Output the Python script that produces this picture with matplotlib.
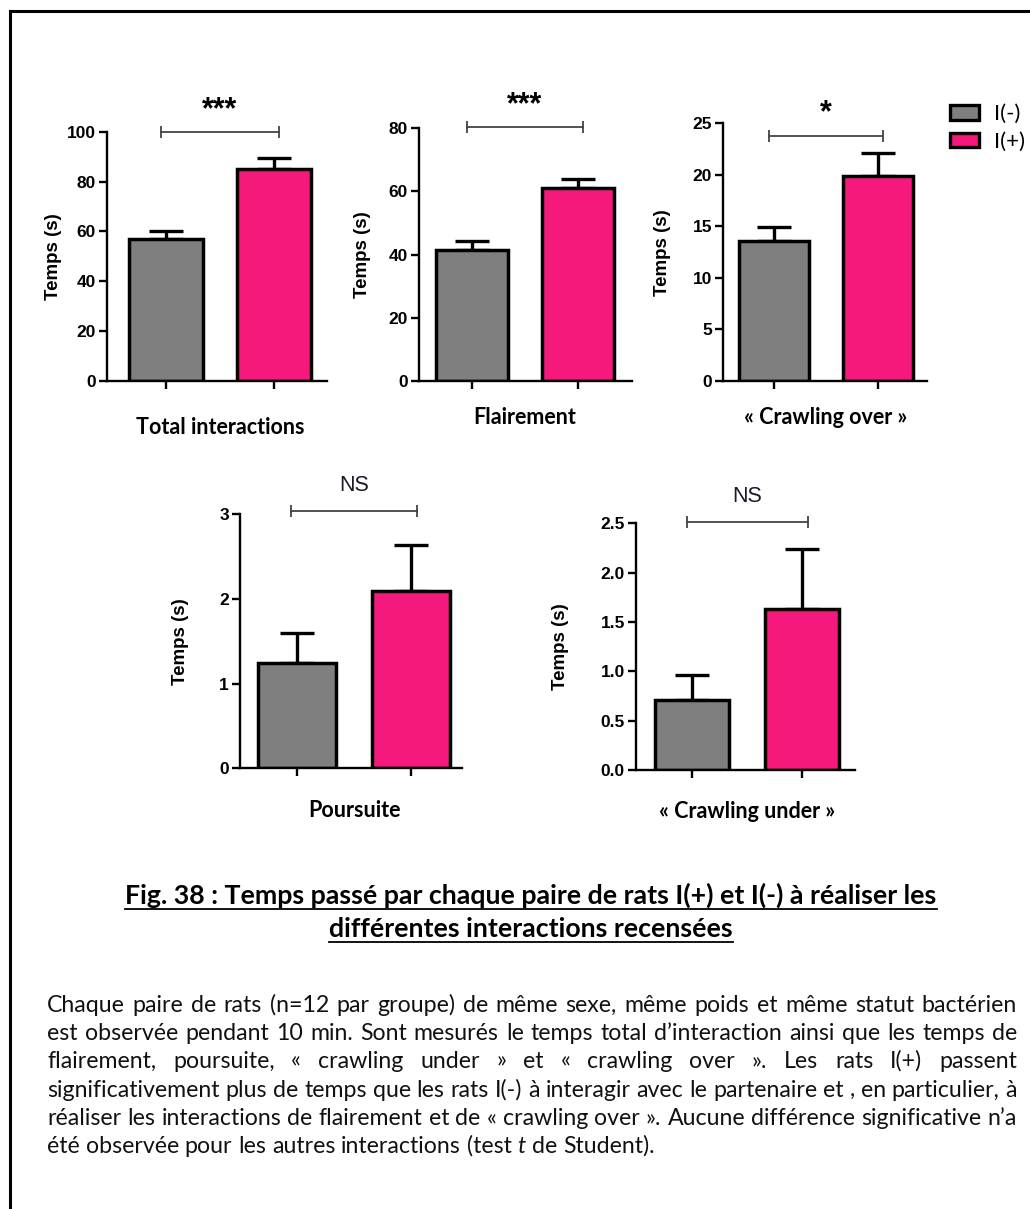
import matplotlib
matplotlib.use('Agg')
import matplotlib.pyplot as plt
from matplotlib.patches import Patch
from matplotlib.lines import Line2D
from matplotlib.ticker import FuncFormatter

# data
panels = ['Total interactions', 'Flairement', '« Crawling over »',
          'Poursuite', '« Crawling under »']
groups = ['I(-)', 'I(+)']
mean_neg = [57, 41.4, 13.6, 1.24, 0.71]
mean_pos = [85, 61, 19.9, 2.09, 1.63]
sem_neg = [3.2, 2.9, 1.3, 0.36, 0.25]
sem_pos = [4.5, 2.8, 2.2, 0.54, 0.61]
y_max = [100, 80, 25, 3, 2.5]
y_step = [20, 20, 5, 1, 0.5]
signif = ['***', '***', '*', 'NS', 'NS']
bracket_y = [100, 80.5, 23.8, 3.03, 2.51]

caption = ['Fig. 38 : Temps passé par chaque paire de rats I(+) et I(-) à réaliser les',
           'différentes interactions recensées']
body = [
    'Chaque paire de rats (n=12 par groupe) de même sexe, même poids et même statut bactérien',
    'est observée pendant 10 min. Sont mesurés  le temps total d’interaction ainsi que les temps de',
    'flairement, poursuite, « crawling under » et « crawling over ». Les rats I(+) passent',
    'significativement plus de temps  que les rats I(-) à interagir avec le partenaire et , en particulier, à',
    'réaliser les interactions de flairement et de « crawling over ». Aucune différence significative n’a',
    'été observée pour les autres interactions (test t de Student).',
]

colors = ['#7f7f7f', '#f5197d']
W, H = 1030, 1209

# layout in pixels: left, right, top, bottom, first tick, second tick, ylabel offset, xlabel offset
layout = [
    (107, 327, 131.7, 381, 166, 274, 45, 47),
    (419, 632, 128.3, 381, 472, 578, 48, 37),
    (723, 927, 123.3, 381, 774, 878, 52, 37),
    (240, 462, 514.0, 768.3, 297, 411, 51, 42),
    (636, 855, 523.3, 770, 692, 802, 67, 42),
]

tick_font = {'family': 'Liberation Sans', 'weight': 'bold', 'size': 12.5}
txt_font = 'Lato'

fig = plt.figure(figsize=(W / 100, H / 100), dpi=100)

for i, name in enumerate(panels):
    left, right, top, bottom, t1, t2, ylab_off, xlab_off = layout[i]
    ax = fig.add_axes([left / W, 1 - bottom / H, (right - left) / W, (bottom - top) / H])
    unit = t2 - t1
    ax.set_xlim((left - t1) / unit, (right - t1) / unit)
    ax.set_ylim(0, y_max[i])

    ax.errorbar([0, 1], [mean_neg[i], mean_pos[i]],
                yerr=[[0, 0], [sem_neg[i], sem_pos[i]]],
                fmt='none', ecolor='black', elinewidth=2.4, capsize=12,
                capthick=2.4, zorder=1, clip_on=False)
    ax.bar([0, 1], [mean_neg[i], mean_pos[i]], width=0.68, color=colors,
           edgecolor='black', linewidth=2.5, zorder=2)

    for s in ['top', 'right']:
        ax.spines[s].set_visible(False)
    for s in ['left', 'bottom']:
        ax.spines[s].set_linewidth(1.7)
    ax.set_xticks([0, 1])
    ax.set_xticklabels([])
    ax.tick_params(axis='x', length=6, width=1.7, direction='out')
    ticks = [k * y_step[i] for k in range(int(round(y_max[i] / y_step[i])) + 1)]
    ax.set_yticks(ticks)
    if y_step[i] < 1:
        ax.yaxis.set_major_formatter(FuncFormatter(lambda v, p: f'{v:.1f}'))
    else:
        ax.yaxis.set_major_formatter(FuncFormatter(lambda v, p: f'{v:.0f}'))
    ax.tick_params(axis='y', length=6, width=1.7, pad=2)
    for lab in ax.get_yticklabels():
        lab.set_fontproperties(tick_font)
    ax.set_ylabel('Temps (s)', fontdict={**tick_font, 'size': 13.5})
    ax.yaxis.set_label_coords(-ylab_off / (right - left), 0.5)

    # significance bracket
    ax.plot([-0.05, 1.05], [bracket_y[i], bracket_y[i]], color='#444444', lw=1.3,
            marker='|', markersize=8, markeredgewidth=1.3, clip_on=False)
    if signif[i] == 'NS':
        ax.annotate('NS', (0.5, bracket_y[i]), xytext=(0, 11), textcoords='offset points',
                    ha='center', va='bottom', fontsize=15.5, family='Liberation Sans',
                    color='#1a1a2a', annotation_clip=False)
    else:
        ax.annotate(signif[i], (0.5, bracket_y[i]), xytext=(0, 5), textcoords='offset points',
                    ha='center', va='bottom', fontsize=22, family='Liberation Sans',
                    weight='bold', annotation_clip=False)

    fig.text(((t1 + t2) / 2) / W, 1 - (bottom + xlab_off) / H, name, ha='center',
             va='center', fontsize=15.5, family=txt_font, weight='bold')

handles = [Patch(facecolor=c, edgecolor='black', linewidth=2.4) for c in colors]
fig.legend(handles, groups, loc='upper left', bbox_to_anchor=(950 / W, 1 - 104 / H),
           frameon=False, prop={'family': txt_font, 'size': 16},
           handlelength=1.3, handleheight=0.65, labelspacing=0.35, handletextpad=0.7,
           borderaxespad=0, borderpad=0)

fig.canvas.draw()
renderer = fig.canvas.get_renderer()


def text_width(s, size, **kw):
    t = fig.text(0, 0, s, fontsize=size, family=txt_font, **kw)
    w = t.get_window_extent(renderer).width
    t.remove()
    return w


# caption, underlined; size fitted to the reference line width
cap_base = [904, 937]
cap_size = 10 * 813 / text_width(caption[0], 10, weight='bold')
for line, yb in zip(caption, cap_base):
    t = fig.text(531 / W, 1 - yb / H, line, ha='center', va='baseline',
                 fontsize=cap_size, family=txt_font, weight='bold')
    bb = t.get_window_extent(renderer)
    fig.add_artist(Line2D([bb.x0 / W, bb.x1 / W], [1 - (yb + 5) / H] * 2,
                          color='black', lw=1.3))

# justified paragraph
x_left, x_right = 47, 1017
body_base = [1012, 1040, 1068, 1097, 1125, 1153]
body_size = 10 * (x_right - x_left) / text_width(' '.join(body[3].split()), 10)
for n, (line, yb) in enumerate(zip(body, body_base)):
    words = line.split()
    arts = []
    for w in words:
        style = 'italic' if (w == 't' and n == len(body) - 1) else 'normal'
        a = fig.text(0, 1 - yb / H, w, ha='left', va='baseline', fontsize=body_size,
                     family=txt_font, style=style, color='#111111')
        arts.append(a)
    widths = [a.get_window_extent(renderer).width for a in arts]
    if n < len(body) - 1:
        gap = (x_right - x_left - sum(widths)) / (len(words) - 1)
    else:
        gap = text_width('a a', body_size) - text_width('aa', body_size)
    x = x_left
    for a, w in zip(arts, widths):
        a.set_x(x / W)
        x += w + gap

# page border (left and top)
fig.add_artist(Line2D([10 / W, 10 / W], [0, 1 - 11 / H], color='black', lw=2.2))
fig.add_artist(Line2D([10 / W, 1], [1 - 11 / H, 1 - 11 / H], color='black', lw=2.2))

fig.savefig('out.png', dpi=100, facecolor='white')
